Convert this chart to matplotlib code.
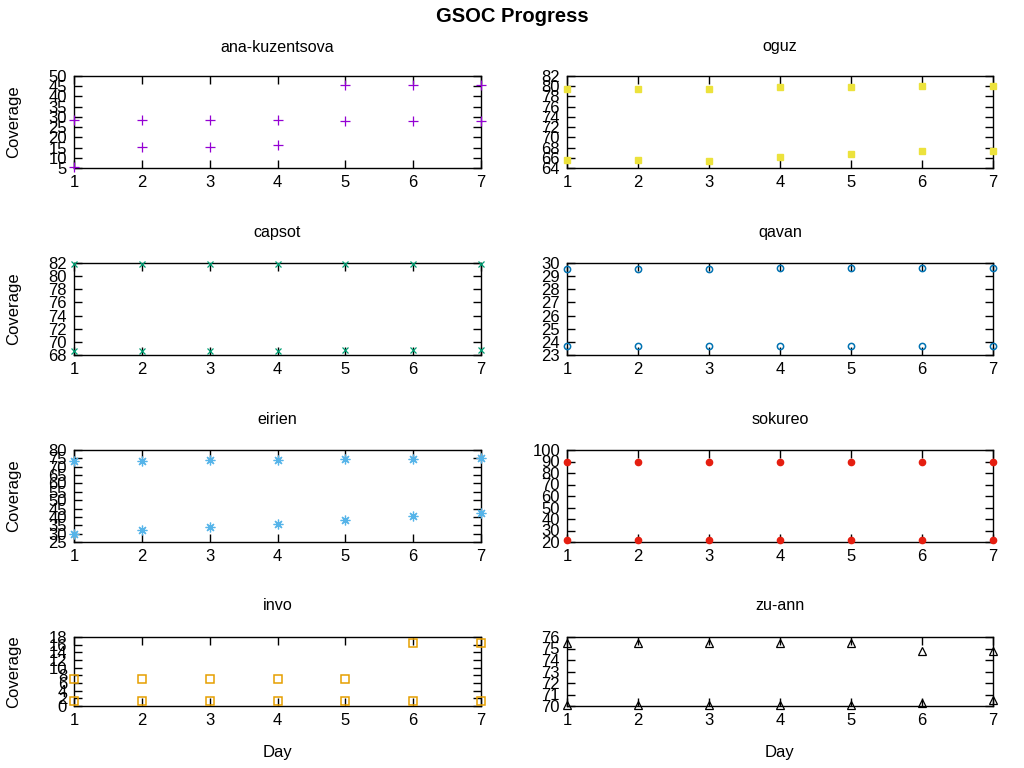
import matplotlib
matplotlib.use("Agg")
import matplotlib.pyplot as plt

plt.rcParams['font.family'] = ['Liberation Sans', 'DejaVu Sans']

days = [1, 2, 3, 4, 5, 6, 7]

names = ["ana-kuzentsova", "oguz", "capsot", "qavan", "eirien", "sokureo", "invo", "zu-ann"]

ana_a = [5.5, 15.3, 15.3, 16.1, 45.8, 45.8, 45.8]
ana_b = [28.7, 28.7, 28.7, 28.7, 27.8, 27.8, 27.8]
oguz_a = [79.5, 79.4, 79.4, 79.8, 79.8, 80.0, 80.0]
oguz_b = [65.5, 65.5, 65.4, 66.2, 66.8, 67.4, 67.4]
capsot_a = [81.8, 81.8, 81.8, 81.8, 81.8, 81.8, 81.8]
capsot_b = [68.6, 68.6, 68.6, 68.6, 68.7, 68.7, 68.7]
qavan_a = [29.54, 29.54, 29.54, 29.62, 29.62, 29.62, 29.62]
qavan_b = [23.66, 23.66, 23.66, 23.66, 23.66, 23.66, 23.66]
eirien_a = [73.2, 73.2, 73.9, 73.9, 74.7, 74.7, 75.2]
eirien_b = [29.6, 32.0, 34.0, 35.8, 38.0, 40.5, 42.3]
sokureo_a = [90, 90, 90, 90, 90, 90, 90]
sokureo_b = [21.5, 21.5, 21.5, 21.5, 21.5, 21.5, 21.5]
invo_a = [7, 7, 7, 7, 7, 16.5, 16.5]
invo_b = [1.25, 1.25, 1.25, 1.25, 1.25, 1.25, 1.25]
zuann_a = [75.5, 75.5, 75.5, 75.5, 75.5, 74.75, 74.75]
zuann_b = [70.1, 70.1, 70.1, 70.1, 70.1, 70.26, 70.55]

series = [(ana_a, ana_b), (oguz_a, oguz_b), (capsot_a, capsot_b), (qavan_a, qavan_b),
          (eirien_a, eirien_b), (sokureo_a, sokureo_b), (invo_a, invo_b), (zuann_a, zuann_b)]

ylims = [(5, 50, 5), (64, 82, 2), (68, 82, 2), (23, 30, 1),
         (25, 80, 5), (20, 100, 10), (0, 18, 2), (70, 76, 1)]

colors = ["#9400d3", "#ece23c", "#009e73", "#0072b2", "#56b4e9", "#e51e10", "#e69f00", "#000000"]
markers = [dict(marker='+', ms=6.5, mew=0.9),
           dict(marker='s', ms=5),
           dict(marker='x', ms=5, mew=0.9),
           dict(marker='o', ms=4.5, mfc='none', mew=1.1),
           dict(marker=(8, 2, 0), ms=7, mew=0.9),
           dict(marker='o', ms=4.5),
           dict(marker='s', ms=5.5, mfc='none', mew=1.1),
           dict(marker='^', ms=6, mfc='none', mew=0.9)]

W, H = 1024, 768
fig = plt.figure(figsize=(10.24, 7.68), dpi=100)

cols = [(74, 481), (567, 993)]
rows = [(76, 168), (263, 355), (450, 542), (637, 706)]
title_y = [47, 233, 419, 606]

for i, name in enumerate(names):
    r, c = divmod(i, 2)
    x0, x1 = cols[c]
    y0, y1 = rows[r]
    ax = fig.add_axes([x0 / W, 1 - y1 / H, (x1 - x0) / W, (y1 - y0) / H])
    col = colors[i]
    for s in series[i]:
        ax.plot(days, s, linestyle='none', color=col, clip_on=False, zorder=3, **markers[i])
    lo, hi, st = ylims[i]
    ax.set_xlim(1, 7)
    ax.set_ylim(lo, hi)
    ax.set_xticks(days)
    ax.set_yticks(list(range(lo, hi + 1, st)))
    ax.tick_params(direction='in', top=True, right=True, length=6, width=1, labelsize=12, pad=5)
    for sp in ax.spines.values():
        sp.set_linewidth(1)
    fig.text((x0 + x1) / 2 / W, 1 - title_y[r] / H, name, ha='center', va='center', fontsize=11.6)
    if c == 0:
        fig.text(14 / W, 1 - (y0 + y1) / 2 / H, "Coverage", rotation=90,
                 ha='center', va='center', fontsize=12)
    if r == 3:
        fig.text((x0 + x1) / 2 / W, 1 - 752 / H, "Day", ha='center', va='center', fontsize=12)

fig.text(0.5, 1 - 16 / H, "GSOC Progress", ha='center', va='center', fontsize=14.5, fontweight='bold')

fig.savefig("out.png", dpi=100)
